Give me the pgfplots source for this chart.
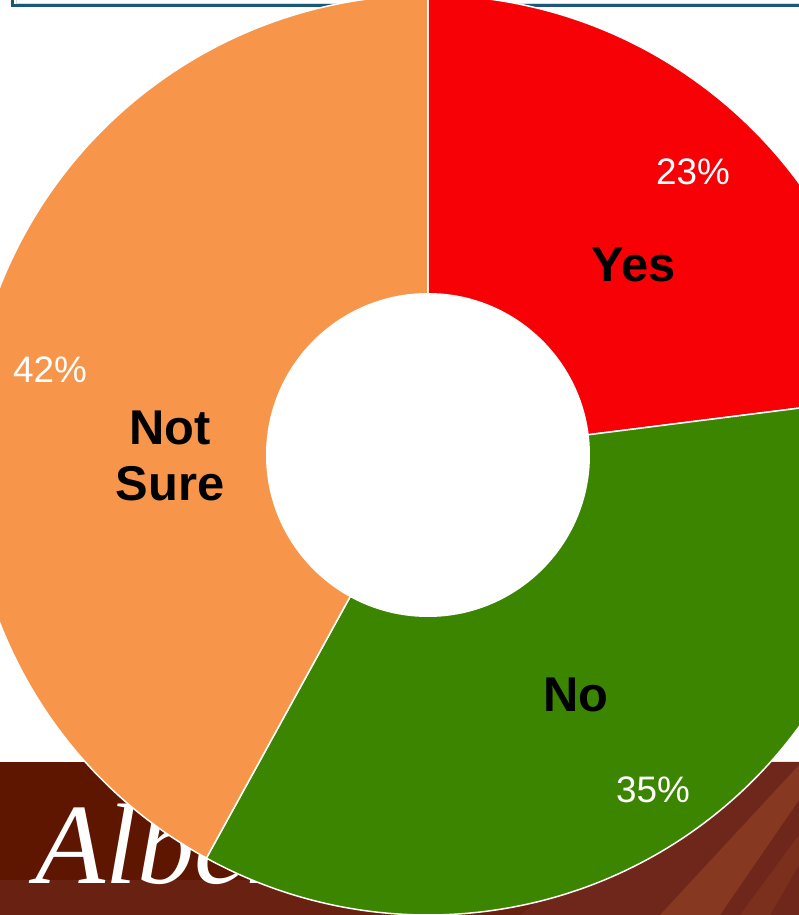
\documentclass[border=0pt]{standalone}
\usepackage{pgfplots}
\pgfplotsset{compat=1.18}
\usepackage{fontspec}
\setmainfont{Liberation Sans}
\newfontfamily\logofont{Liberation Serif}
\definecolor{cyes}{HTML}{F70006}
\definecolor{cno}{HTML}{3C8500}
\definecolor{cns}{HTML}{F7964A}
\definecolor{banddark}{HTML}{5E1600}
\definecolor{bandmid}{HTML}{6E271A}
\definecolor{bandlight}{HTML}{9C4628}
\definecolor{boxline}{HTML}{1B5878}
\begin{document}
\begin{tikzpicture}
\useasboundingbox (0,0) rectangle (799bp,915bp);
\clip (0,0) rectangle (799bp,915bp);
\begin{axis}[x=1bp,y=1bp,xmin=0,xmax=799,ymin=0,ymax=915,
  hide axis,scale only axis,clip=false,anchor=origin,at={(0,0)}]
% background band
\fill[banddark] (axis cs:0,0) rectangle (axis cs:799,153);
\fill[bandmid,opacity=0.7] (axis cs:0,0) rectangle (axis cs:799,35);
\fill[bandmid] (axis cs:520,0) -- (axis cs:799,0) -- (axis cs:799,153) -- (axis cs:720,153) -- cycle;
\fill[bandlight,opacity=0.55] (axis cs:660,0) -- (axis cs:720,0) -- (axis cs:799,115) -- (axis cs:799,150) -- cycle;
\fill[bandlight,opacity=0.3] (axis cs:740,0) -- (axis cs:770,0) -- (axis cs:799,50) -- (axis cs:799,80) -- cycle;
\node[anchor=base west,text=white,font=\logofont\itshape\fontsize{115}{120}\selectfont,inner sep=0pt] at (axis cs:35,32) {Alberta};
% top box corner
\draw[boxline,line width=3bp] (axis cs:13,920) -- (axis cs:13,909) -- (axis cs:805,909);
\draw[white!80!boxline,line width=0.8bp] (axis cs:16,920) -- (axis cs:16,911.5) -- (axis cs:805,911.5);
% donut
\gdef\angA{90}
\foreach \val/\col in {23/cyes,35/cno,42/cns}{
  \pgfmathsetmacro{\sa}{\angA}
  \pgfmathsetmacro{\ea}{\angA-3.6*\val}
  \edef\temp{\noexpand\fill[\col,draw=white,line width=1.5bp] (axis cs:428,460) -- ([shift={(\sa:460bp)}]axis cs:428,460)
     arc[start angle=\sa,end angle=\ea,radius=460bp] -- cycle;}
  \temp
  \xdef\angA{\ea}
}
\fill[white] (axis cs:428,460) circle[radius=162bp];
% labels
\node[text=white,font=\fontsize{37}{44}\selectfont] at (axis cs:693,743) {23\%};
\node[text=white,font=\fontsize{37}{44}\selectfont] at (axis cs:653,125) {35\%};
\node[text=white,font=\fontsize{37}{44}\selectfont] at (axis cs:50,545) {42\%};
\node[font=\bfseries\fontsize{49}{57}\selectfont] at (axis cs:634,650) {Yes};
\node[font=\bfseries\fontsize{49}{57}\selectfont] at (axis cs:576,220) {No};
\node[font=\bfseries\fontsize{49}{57}\selectfont,align=center] at (axis cs:170,459) {Not\\Sure};
\end{axis}
\end{tikzpicture}
\end{document}
